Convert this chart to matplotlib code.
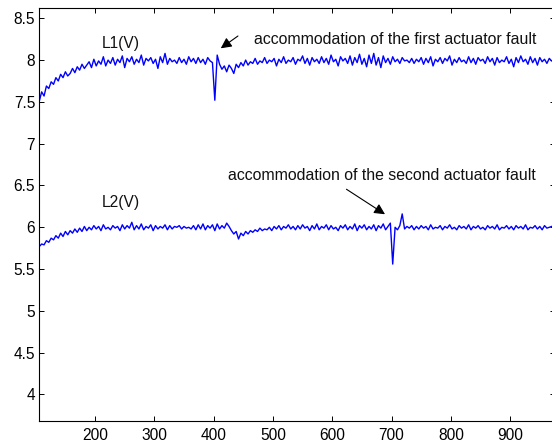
import numpy as np
import matplotlib
matplotlib.use("Agg")
import matplotlib.pyplot as plt

# sample positions (time index)
x_start, x_stop, x_step = 106, 970, 4

L1 = [
    7.51, 7.62, 7.57, 7.69, 7.66, 7.74, 7.71, 7.79, 7.75, 7.83,
    7.79, 7.86, 7.81, 7.84, 7.90, 7.85, 7.92, 7.88, 7.95, 7.90,
    7.94, 7.98, 7.91, 8.01, 7.93, 7.99, 7.95, 8.04, 7.93, 8.00,
    7.96, 8.03, 7.94, 8.01, 7.97, 8.05, 7.91, 8.02, 7.98, 8.04,
    7.95, 8.01, 7.97, 8.06, 7.94, 8.02, 7.99, 8.03, 7.96, 8.01,
    7.90, 8.04, 7.97, 8.08, 7.95, 8.02, 7.98, 8.00, 7.96, 8.03,
    7.97, 8.01, 7.95, 8.04, 7.98, 8.02, 7.96, 8.03, 7.97, 8.01,
    7.95, 8.03, 7.99, 7.97, 7.52, 8.06, 7.95, 7.89, 7.93, 7.86,
    7.94, 7.90, 7.84, 7.95, 7.91, 7.97, 7.93, 8.00, 7.94, 7.98,
    7.96, 8.02, 7.95, 7.99, 7.97, 8.03, 7.96, 8.00, 7.98, 8.02,
    7.93, 8.01, 7.97, 8.04, 7.96, 8.00, 7.98, 8.03, 7.95, 8.01,
    7.99, 8.05, 7.96, 8.02, 7.94, 8.03, 7.98, 8.01, 7.96, 8.04,
    7.97, 8.02, 7.95, 8.06, 7.98, 8.01, 7.93, 8.04, 7.99, 8.02,
    7.96, 8.05, 7.94, 8.03, 7.97, 8.07, 7.95, 8.02, 7.92, 8.06,
    7.96, 8.08, 7.94, 8.03, 7.91, 8.05, 7.97, 8.02, 7.95, 8.04,
    7.98, 8.01, 7.96, 8.03, 7.99, 8.00, 7.97, 8.02, 7.96, 8.01,
    7.98, 8.03, 7.95, 8.02, 7.97, 8.04, 7.93, 8.01, 7.98, 8.03,
    7.96, 8.02, 7.99, 8.05, 7.94, 8.01, 7.97, 8.03, 7.98, 8.00,
    7.96, 8.04, 7.97, 8.02, 7.95, 8.03, 7.99, 8.01, 7.96, 8.04,
    7.98, 8.02, 7.94, 8.03, 7.97, 8.00, 7.98, 8.04, 7.96, 8.01,
    7.92, 8.03, 7.97, 8.05, 7.98, 8.01, 7.95, 8.04, 7.97, 8.02,
    7.94, 8.03, 7.98, 8.01, 7.96, 8.02, 7.99,
]

L2 = [
    5.77, 5.80, 5.79, 5.84, 5.82, 5.87, 5.85, 5.90, 5.87, 5.93,
    5.89, 5.95, 5.91, 5.96, 5.93, 5.98, 5.94, 5.99, 5.95, 6.01,
    5.96, 6.00, 5.97, 6.02, 5.98, 6.01, 5.96, 6.03, 5.98, 6.00,
    5.97, 6.02, 5.99, 6.01, 5.96, 6.03, 5.98, 6.02, 5.99, 6.06,
    5.97, 6.02, 5.98, 6.04, 5.97, 6.01, 5.99, 6.03, 5.96, 6.02,
    5.98, 6.01, 5.99, 6.03, 5.97, 6.02, 5.98, 6.01, 6.00, 6.02,
    5.98, 6.01, 5.99, 6.00, 5.98, 6.02, 5.97, 6.03, 5.98, 6.04,
    5.97, 6.02, 5.99, 6.03, 5.96, 6.04, 5.98, 6.02, 5.99, 6.05,
    6.01, 5.96, 5.92, 5.95, 5.86, 5.93, 5.90, 5.95, 5.92, 5.96,
    5.94, 5.97, 5.95, 5.99, 5.96, 5.98, 5.97, 6.00, 5.96, 6.01,
    5.98, 6.02, 5.97, 6.01, 5.99, 6.03, 5.98, 6.01, 5.97, 6.02,
    5.98, 6.03, 5.99, 6.01, 5.96, 6.02, 5.98, 6.04, 5.97, 6.01,
    5.99, 6.03, 5.97, 6.02, 5.98, 6.00, 5.96, 6.02, 5.99, 6.03,
    5.97, 6.01, 5.98, 6.04, 5.96, 6.02, 5.99, 6.03, 5.97, 6.01,
    5.98, 6.03, 5.96, 6.02, 5.99, 6.04, 5.97, 6.01, 6.05, 5.56,
    6.00, 5.97, 6.02, 6.16, 5.98, 6.01, 5.99, 6.02, 5.97, 6.01,
    5.98, 6.02, 5.99, 6.01, 5.97, 6.03, 5.98, 6.00, 5.99, 6.02,
    5.97, 6.01, 5.99, 6.03, 5.98, 6.00, 5.97, 6.02, 5.99, 6.01,
    5.98, 6.03, 5.97, 6.01, 5.99, 6.02, 5.98, 6.00, 5.97, 6.02,
    5.99, 6.01, 5.98, 6.03, 5.97, 6.00, 5.99, 6.02, 5.98, 6.01,
    5.97, 6.02, 5.99, 6.01, 5.98, 6.03, 5.97, 6.00, 5.99, 6.02,
    5.98, 6.01, 5.97, 6.02, 5.99, 6.00, 6.01,
]

x_ticks = [200, 300, 400, 500, 600, 700, 800, 900]
y_ticks = [4, 4.5, 5, 5.5, 6, 6.5, 7, 7.5, 8, 8.5]
y_tick_labels = ["4", "4.5", "5", "5.5", "6", "6.5", "7", "7.5", "8", "8.5"]

label_L1 = "L1(V)"
label_L2 = "L2(V)"
note1 = "accommodation of the first actuator fault"
note2 = "accommodation of the second actuator fault"

x = np.arange(x_start, x_stop + 1, x_step)

plt.rcParams["font.family"] = ["Liberation Sans", "DejaVu Sans"]
FS = 11.2
FS_NOTE = 11.4

fig = plt.figure(figsize=(5.52, 4.47), dpi=100)
ax = fig.add_axes([39.3 / 552, 26 / 447, (554.6 - 39.3) / 552, 413 / 447])

ax.plot(x, L1, color=(0, 0, 1), lw=1.0)
ax.plot(x, L2, color=(0, 0, 1), lw=1.0)

ax.set_xlim(106, 975)
ax.set_ylim(3.683, 8.623)
ax.set_xticks(x_ticks)
ax.set_xticklabels([str(t) for t in x_ticks])
ax.set_yticks(y_ticks)
ax.set_yticklabels(y_tick_labels)
ax.tick_params(direction="in", length=3.5, width=0.7, top=True, right=True,
               labelsize=FS, colors="black")
ax.tick_params(axis="x", pad=5)
ax.tick_params(axis="y", pad=3)
for s in ax.spines.values():
    s.set_linewidth(0.8)

ax.text(211, 8.20, label_L1, fontsize=FS, va="center", ha="left", color="#111111")
ax.text(211, 6.294, label_L2, fontsize=FS, va="center", ha="left", color="#111111")

ax.annotate("", xy=(412, 8.141), xytext=(441, 8.288),
            arrowprops=dict(arrowstyle="-|>", color="black", lw=0.8,
                            mutation_scale=16, shrinkA=0, shrinkB=0))
ax.text(468, 8.189, note1, fontsize=FS_NOTE, va="baseline", ha="left", color="#111111")

ax.annotate("", xy=(689, 6.156), xytext=(624, 6.455),
            arrowprops=dict(arrowstyle="-|>", color="black", lw=0.8,
                            mutation_scale=16, shrinkA=0, shrinkB=0))
ax.text(424, 6.566, note2, fontsize=FS_NOTE, va="baseline", ha="left", color="#111111")

fig.savefig("out.png", dpi=100)
